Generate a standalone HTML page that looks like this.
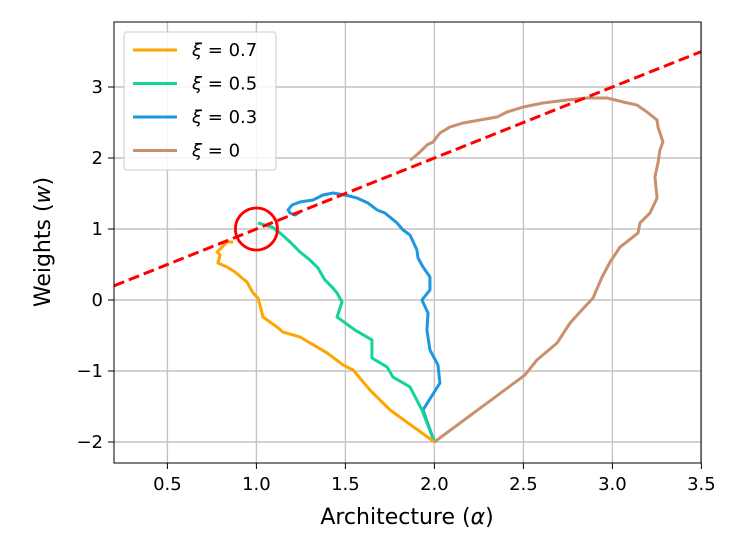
<!DOCTYPE html>
<html><head><meta charset="utf-8"><style>
body{margin:0;background:#fff;font-family:"Liberation Sans","DejaVu Sans",sans-serif;}
svg text{font-family:"DejaVu Sans","Liberation Sans",sans-serif;}
</style></head><body>
<svg id="chart" width="744" height="539" xmlns="http://www.w3.org/2000/svg">
<g id="grid"></g>
<g id="series"></g>
<rect x="114" y="22" width="587" height="441" fill="none" stroke="#000" stroke-width="1"/>
<g id="ticks"></g>
<text x="407" y="524" font-size="22" text-anchor="middle">Architecture (<tspan font-style="italic">α</tspan>)</text>
<text transform="translate(50,242) rotate(-90)" font-size="22" text-anchor="middle">Weights (<tspan font-style="italic">w</tspan>)</text>
<g>
<rect x="124" y="32" width="152" height="138" rx="3" fill="#fff" fill-opacity="0.85" stroke="#ccc"/>
<g id="legend-items"></g>
</g>
</svg>
<script>
const xTicks=[0.5,1.0,1.5,2.0,2.5,3.0,3.5];
const yTicks=[-2,-1,0,1,2,3];
const seriesNames=["ξ = 0.7","ξ = 0.5","ξ = 0.3","ξ = 0"];
const seriesColors=["#ffa500","#13d39c","#1f96e0","#c8906e"];
const s07x=[2.0,1.751,1.638,1.543,1.487,1.397,1.245,1.149,1.116,1.037,1.020,1.009,0.981,0.947,0.919,0.880,0.835,0.784,0.796,0.779,0.807,0.835,0.869];
const s07y=[-2.0,-1.549,-1.268,-0.986,-0.915,-0.746,-0.521,-0.451,-0.380,-0.239,-0.070,0.028,0.099,0.254,0.310,0.394,0.465,0.521,0.634,0.676,0.746,0.817,0.817];
const s05x=[2.0,1.930,1.863,1.767,1.734,1.649,1.649,1.554,1.453,1.481,1.453,1.425,1.385,1.346,1.301,1.245,1.189,1.133,1.088,1.048,1.009];
const s05y=[-2.0,-1.549,-1.225,-1.085,-0.944,-0.817,-0.563,-0.423,-0.239,-0.028,0.099,0.183,0.282,0.451,0.563,0.676,0.817,0.944,1.028,1.056,1.085];
const s03x=[2.0,1.936,2.031,2.020,1.975,1.958,1.964,1.930,1.975,1.975,1.936,1.908,1.902,1.863,1.824,1.790,1.722,1.678,1.627,1.565,1.498,1.430,1.374,1.318,1.245,1.200,1.178,1.189,1.217,1.245];
const s03y=[-2.0,-1.549,-1.169,-0.915,-0.704,-0.423,-0.183,0,0.141,0.324,0.465,0.592,0.704,0.915,0.986,1.085,1.225,1.268,1.366,1.437,1.479,1.507,1.479,1.408,1.380,1.338,1.268,1.225,1.197,1.239];
const s0x=[2.0,2.509,2.576,2.689,2.762,2.818,2.891,2.942,2.987,3.043,3.144,3.155,3.211,3.251,3.239,3.256,3.267,3.284,3.256,3.251,3.194,3.138,3.060,2.970,2.857,2.745,2.610,2.498,2.408,2.352,2.256,2.161,2.088,2.031,1.992,1.958,1.919,1.880,1.863];
const s0y=[-2.0,-1.056,-0.845,-0.606,-0.324,-0.169,0.028,0.324,0.535,0.746,0.944,1.085,1.225,1.437,1.732,1.930,2.113,2.225,2.437,2.535,2.648,2.746,2.789,2.845,2.845,2.817,2.775,2.718,2.648,2.577,2.535,2.493,2.437,2.352,2.225,2.183,2.085,2.000,1.972];
const refLineX=[0.2,3.5];
const refLineY=[0.2,3.5];
const markerX=[1.0];
const markerY=[1.0];

const X=v=>114+(v-0.2)*178;
const Y=v=>300-v*71;
const NS="http://www.w3.org/2000/svg";
function mk(tag,parent){const e=document.createElementNS(NS,tag);parent.appendChild(e);return e;}
const grid=document.getElementById('grid'),ticks=document.getElementById('ticks'),ser=document.getElementById('series');
xTicks.forEach(t=>{
 const l=mk('line',grid);
 
 
 l.setAttribute('x1',X(t));l.setAttribute('x2',X(t));l.setAttribute('y1',22);l.setAttribute('y2',463);l.setAttribute('stroke','#c4c4c4');l.setAttribute('stroke-width','1.4');
 const k=mk('line',ticks);
 
 
 k.setAttribute('x1',X(t));k.setAttribute('x2',X(t));k.setAttribute('y1',463);k.setAttribute('y2',469);k.setAttribute('stroke','#000');
 const tx=mk('text',ticks);
 
 
 tx.setAttribute('x',X(t));tx.setAttribute('y',490);tx.setAttribute('font-size','18');tx.setAttribute('text-anchor','middle');tx.textContent=t.toFixed(1);
});
yTicks.forEach(t=>{
 const l=mk('line',grid);
 
 
 l.setAttribute('y1',Y(t));l.setAttribute('y2',Y(t));l.setAttribute('x1',114);l.setAttribute('x2',701);l.setAttribute('stroke','#c4c4c4');l.setAttribute('stroke-width','1.4');
 const k=mk('line',ticks);
 
 
 k.setAttribute('y1',Y(t));k.setAttribute('y2',Y(t));k.setAttribute('x1',108);k.setAttribute('x2',114);k.setAttribute('stroke','#000');
 const tx=mk('text',ticks);
 
 
 tx.setAttribute('x',103);tx.setAttribute('y',Y(t)+6);tx.setAttribute('font-size','18');tx.setAttribute('text-anchor','end');tx.textContent=(t<0?'−'+(-t):String(t));
});
const allX=[s07x,s05x,s03x,s0x],allY=[s07y,s05y,s03y,s0y];
const order=[3,2,1,0];
order.forEach(i=>{
 const p=mk('polyline',ser);
 
 
 p.setAttribute('points',allX[i].map((x,j)=>X(x)+','+Y(allY[i][j])).join(' '));
 p.setAttribute('fill','none');p.setAttribute('stroke',seriesColors[i]);p.setAttribute('stroke-width','3');p.setAttribute('stroke-linejoin','round');
});
const rl=mk('line',ser);


rl.setAttribute('x1',X(refLineX[0]));rl.setAttribute('y1',Y(refLineY[0]));rl.setAttribute('x2',X(refLineX[1]));rl.setAttribute('y2',Y(refLineY[1]));
rl.setAttribute('stroke','#ff0000');rl.setAttribute('stroke-width','3');rl.setAttribute('stroke-dasharray','11,5');
const c=mk('circle',ser);


c.setAttribute('cx',X(markerX[0]));c.setAttribute('cy',Y(markerY[0]));c.setAttribute('r',21);c.setAttribute('fill','none');c.setAttribute('stroke','#ff0000');c.setAttribute('stroke-width','2.8');
const li=document.getElementById('legend-items');
seriesNames.forEach((n,i)=>{
 const y=50+i*33.5;
 const l=mk('line',li);
 
 
 l.setAttribute('x1',133);l.setAttribute('x2',177);l.setAttribute('y1',y);l.setAttribute('y2',y);l.setAttribute('stroke',seriesColors[i]);l.setAttribute('stroke-width','3');
 const t=mk('text',li);
 
 
 t.setAttribute('x',192);t.setAttribute('y',y+6);t.setAttribute('font-size','18');
 t.innerHTML='<tspan font-style="italic">ξ</tspan>'+n.slice(1);
});
</script>
</body></html>
